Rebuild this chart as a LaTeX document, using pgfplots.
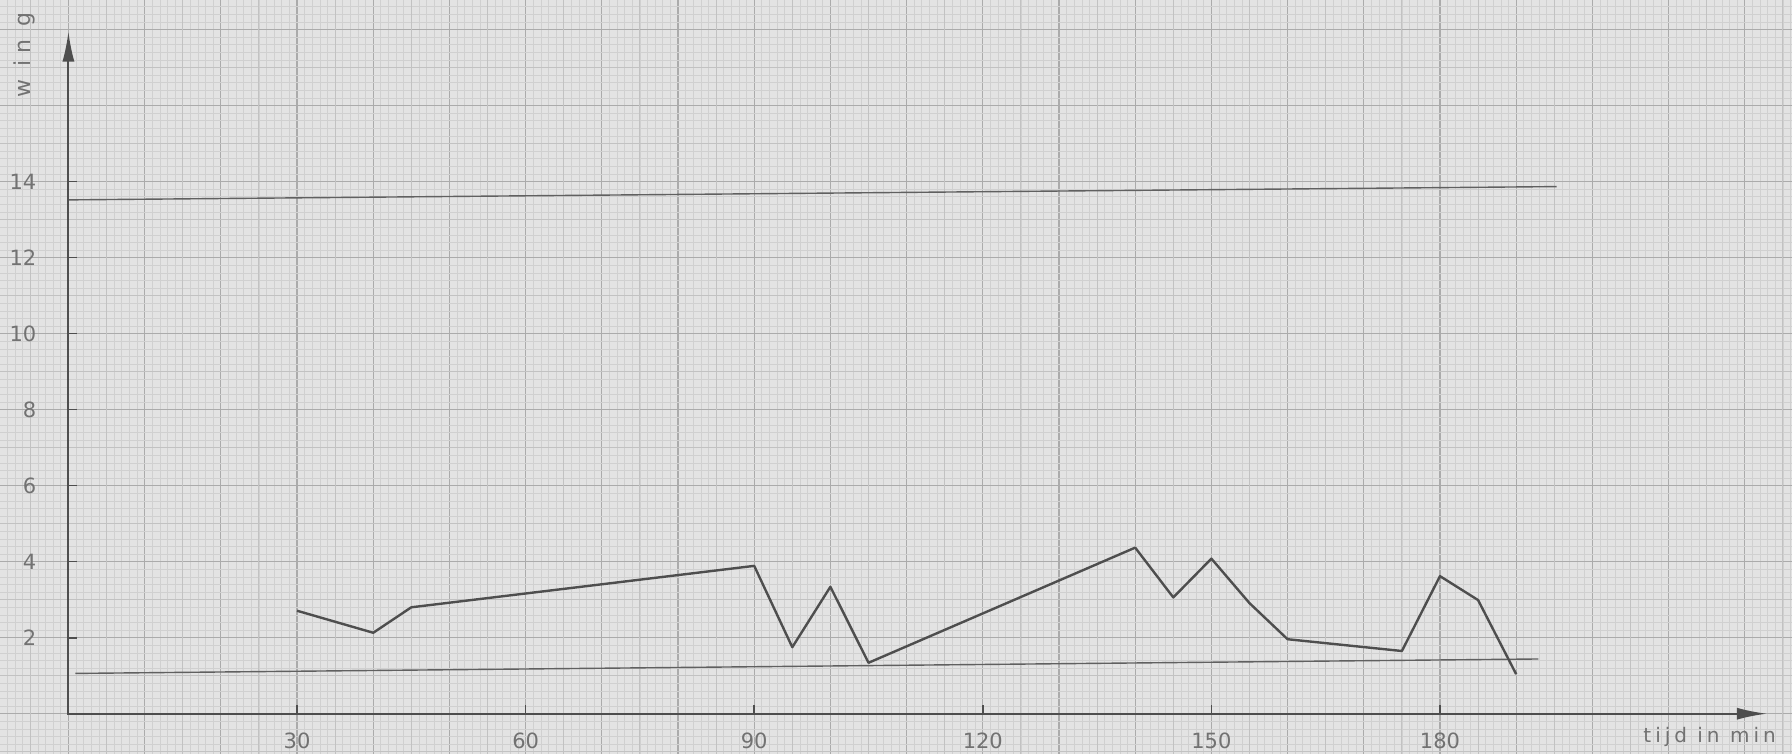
\documentclass[border=0pt]{standalone}
\usepackage{pgfplots}
\pgfplotsset{compat=1.18}
\usepackage{fontspec}
\setmainfont{DejaVu Sans}
\newfontfamily\spaced{DejaVu Sans}[LetterSpace=20]
\newfontfamily\wspaced{DejaVu Sans}[LetterSpace=30]
\usetikzlibrary{arrows.meta}
\definecolor{paper}{HTML}{E3E3E3}
\definecolor{gfine}{HTML}{D0D0D0}
\definecolor{gmed}{HTML}{C2C2C2}
\definecolor{gmaj}{HTML}{ABABAB}
\definecolor{ink}{HTML}{4E4E4E}
\definecolor{lbl}{HTML}{727272}
\pgfplotsset{common/.style={width=896pt,height=377pt,scale only axis,
  xmin=-8.98,xmax=226.2,ymin=-1.06,ymax=18.78}}
\begin{document}
\begin{tikzpicture}
\begin{axis}[common, name=grid,
  axis background/.style={fill=paper}, axis line style={draw=none},
  xtick={-10,0,...,230}, ytick={-2,0,...,20},
  minor x tick num=9, minor y tick num=9,
  xticklabels={}, yticklabels={},
  major tick length=0pt, minor tick length=0pt,
  grid=both,
  major grid style={gmaj, line width=0.6pt},
  minor grid style={gfine, line width=0.35pt},
  extra x ticks={-5,5,...,225}, extra y ticks={-1,1,...,19},
  extra x tick labels={}, extra y tick labels={},
  extra tick style={grid=major, major grid style={gmed, line width=0.45pt}}]
\addplot[draw=none] coordinates {(0,0)};
\end{axis}
\begin{axis}[common, axis lines=middle, axis line style={draw=none}, clip=false,
  xtick={30,60,...,180}, ytick={2,4,...,14},
  tick align=inside, major tick length=4.5pt,
  tick style={ink, line width=0.8pt},
  ticklabel style={font=\fontsize{10.5}{12}\selectfont, text=lbl},
  /pgf/number format/assume math mode=true,
  xticklabel style={yshift=-6pt},
  yticklabel style={xshift=-12.5pt},
  xlabel={tijd in min}, ylabel={w in g},
  xlabel style={at={(axis description cs:0.954,0.0225)}, anchor=center,
    font=\spaced\fontsize{10}{12}\selectfont, text=lbl},
  ylabel style={at={(axis description cs:0.0134,0.927)}, anchor=center, rotate=90,
    font=\wspaced\fontsize{11}{12}\selectfont, text=lbl}]
\addplot[ink!90, line width=0.7pt] coordinates {(0,13.52) (195.3,13.87)};
\addplot[ink!90, line width=0.7pt] coordinates {(0.9,1.06) (192.9,1.44)};
\addplot[ink, line width=1.2pt, line join=round] coordinates {
  (30,2.71) (40,2.13) (45,2.80) (90,3.89) (95,1.75) (100,3.34) (105,1.34)
  (140,4.37) (145,3.06) (150,4.08) (155,2.91) (160,1.96) (175,1.65)
  (180,3.62) (185,2.99) (190,1.04)};
\addplot[ink, line width=1pt, line join=miter,
  {Latex[length=15pt,width=6pt]}-{Latex[length=15pt,width=6pt]}]
  coordinates {(0,17.95) (0,0) (222.9,0)};
\end{axis}
\pgfresetboundingbox
\useasboundingbox (grid.south west) rectangle (grid.north east);
\end{tikzpicture}
\end{document}
